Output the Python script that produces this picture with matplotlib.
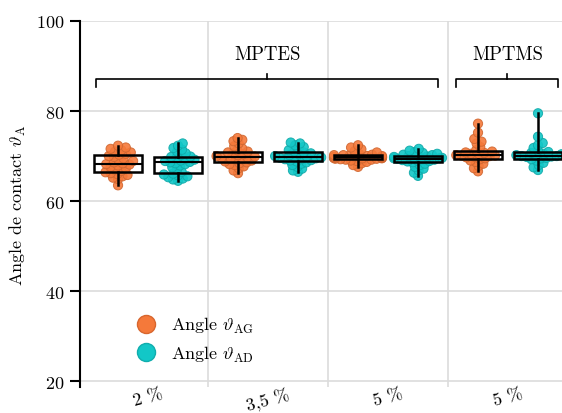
import matplotlib
matplotlib.use("Agg")
import matplotlib.pyplot as plt
from matplotlib.lines import Line2D
import numpy as np
import pandas as pd
import seaborn as sns

plt.rcParams['font.family'] = ['cmr10', 'DejaVu Serif']
plt.rcParams['mathtext.fontset'] = 'cm'
plt.rcParams['axes.formatter.use_mathtext'] = True

labels = ["2 %", "3,5 %", "5 %", "5 %"]
silanes = [("MPTES", 0, 2), ("MPTMS", 3, 3)]

# angle AG (orange) / angle AD (cyan), one list per concentration
ag = [
    [63.5, 64.9, 65.2, 65.5, 65.8, 66.0, 66.2, 66.4, 66.7, 67.0, 67.3, 67.6, 67.9, 68.1, 68.2,
     68.4, 68.6, 68.9, 69.2, 69.5, 69.8, 70.0, 70.3, 70.5, 70.8, 71.0, 71.3, 71.6, 71.9, 72.3],
    [66.2, 66.8, 67.3, 67.7, 68.0, 68.2, 68.4, 68.6, 68.8, 69.0, 69.2, 69.3, 69.5, 69.6, 69.7,
     69.9, 70.0, 70.2, 70.4, 70.6, 70.8, 71.0, 71.3, 71.7, 72.2, 72.8, 73.3, 73.6, 74.0],
    [67.6, 68.0, 68.4, 68.7, 68.9, 69.0, 69.2, 69.2, 69.3, 69.4, 69.4, 69.5, 69.5, 69.6, 69.6,
     69.6, 69.7, 69.7, 69.8, 69.8, 69.9, 70.0, 70.0, 70.1, 70.2, 70.2, 70.3, 70.5, 70.8, 71.1,
     71.5, 71.9, 72.4],
    [66.6, 67.3, 67.8, 68.3, 68.7, 69.0, 69.3, 69.5, 69.7, 69.8, 70.0, 70.1, 70.1, 70.2, 70.4,
     70.5, 70.7, 70.8, 71.0, 71.3, 72.0, 72.8, 73.2, 73.8, 75.2, 77.2],
]
ad = [
    [64.5, 64.8, 65.0, 65.3, 65.5, 65.7, 65.9, 66.1, 66.5, 67.0, 67.5, 67.9, 68.2, 68.4, 68.6,
     68.7, 68.9, 69.0, 69.2, 69.4, 69.6, 69.8, 69.9, 70.2, 70.6, 71.0, 71.4, 71.8, 72.3, 72.8],
    [66.5, 66.8, 67.2, 67.6, 68.0, 68.3, 68.6, 68.8, 69.0, 69.1, 69.3, 69.4, 69.5, 69.6, 69.7,
     69.8, 69.9, 70.0, 70.2, 70.4, 70.6, 70.8, 71.0, 71.3, 71.6, 72.0, 72.4, 72.8, 73.0],
    [65.6, 66.3, 66.8, 67.2, 67.6, 68.0, 68.3, 68.6, 68.8, 68.9, 69.0, 69.1, 69.2, 69.3, 69.4,
     69.5, 69.5, 69.6, 69.7, 69.8, 69.9, 70.0, 70.1, 70.2, 70.3, 70.5, 70.7, 70.9, 71.2, 71.6],
    [66.9, 67.5, 68.0, 68.5, 69.0, 69.3, 69.5, 69.6, 69.8, 69.9, 70.0, 70.0, 70.1, 70.2, 70.4,
     70.5, 70.7, 70.9, 71.2, 71.8, 72.4, 72.9, 74.3, 79.5],
]

ORANGE = "#f5793a"
CYAN = "#12c7c7"
OFF = 0.25

rows = []
for i in range(len(labels)):
    for v in ag[i]:
        rows.append((i - OFF, v, "AG"))
    for v in ad[i]:
        rows.append((i + OFF, v, "AD"))
df = pd.DataFrame(rows, columns=["pos", "angle", "kind"])

fig = plt.figure(figsize=(5.62, 4.14), dpi=100)
ax = fig.add_axes([80 / 562, 26 / 414, 482 / 562, 366 / 414])
ax.set_xlim(-0.567, 3.45)
ax.set_ylim(18.7, 100)

# swarm laid out with small markers, then redrawn bigger so the points overlap
sns.swarmplot(data=df, x="pos", y="angle", hue="kind", native_scale=True,
              palette={"AG": ORANGE, "AD": CYAN}, size=3.6, legend=False, ax=ax)
ax.set_xlim(-0.567, 3.45)
ax.set_ylim(18.7, 100)
fig.canvas.draw()
for coll in list(ax.collections):
    xy = coll.get_offsets()
    fc = coll.get_facecolors()
    coll.remove()
    if len(xy) == 0:
        continue
    ec = fc.copy()
    ec[:, :3] *= 0.85
    ax.scatter(xy[:, 0], xy[:, 1], s=44, c=fc, edgecolors=ec, linewidths=0.7,
               alpha=0.9, zorder=2)

pos = np.arange(len(labels))
for data, shift in ((ag, -OFF), (ad, OFF)):
    ax.boxplot(data, positions=pos + shift, widths=0.4, whis=(0, 100), showfliers=False,
               showcaps=False, patch_artist=True, manage_ticks=False, zorder=3,
               boxprops=dict(facecolor="none", edgecolor="black", linewidth=1.8),
               whiskerprops=dict(color="black", linewidth=1.8),
               medianprops=dict(color="black", linewidth=1.5))

ax.set_xlim(-0.567, 3.45)
ax.set_ylim(18.7, 100)
ax.set_yticks([20, 40, 60, 80, 100])
ax.set_xticks(pos)
ax.set_xticklabels(labels, rotation=15, fontsize=13)
ax.set_xticks(pos[:-1] + 0.5, minor=True)
ax.tick_params(axis="x", which="both", length=0, pad=-1)
ax.tick_params(axis="y", length=7, width=1.5, labelsize=13, pad=4)
ax.grid(axis="y", color="#dcdcdc", linewidth=1.2)
ax.grid(axis="x", which="minor", color="#dcdcdc", linewidth=1.2)
ax.set_axisbelow(True)
for s in ("top", "right", "bottom"):
    ax.spines[s].set_visible(False)
ax.spines["left"].set_linewidth(1.5)
ax.set_xlabel("")
ax.set_ylabel(r"Angle de contact $\vartheta_\mathrm{A}$", fontsize=13, labelpad=6)

# brackets above the groups
for name, a, b in silanes:
    x0, x1 = a - 0.43, b + 0.42
    xm = (x0 + x1) / 2
    ax.plot([x0, x0, x1, x1], [85.3, 87.1, 87.1, 85.3], color="black", lw=1.2,
            clip_on=False, solid_joinstyle="round")
    ax.plot([xm, xm], [87.1, 88.3], color="black", lw=1.2)
    ax.text(xm, 92.7, name, ha="center", va="center", fontsize=13.5)

handles = [Line2D([], [], marker="o", ls="none", markersize=13, markerfacecolor=ORANGE,
                  markeredgecolor="#d8662e", label=r"Angle $\vartheta_\mathrm{AG}$"),
           Line2D([], [], marker="o", ls="none", markersize=13, markerfacecolor=CYAN,
                  markeredgecolor="#10adad", label=r"Angle $\vartheta_\mathrm{AD}$")]
ax.legend(handles=handles, loc="upper left", bbox_to_anchor=(0.065, 0.24), frameon=False,
          fontsize=13, handletextpad=0.4, labelspacing=0.45)

fig.savefig("out.png", dpi=100)
